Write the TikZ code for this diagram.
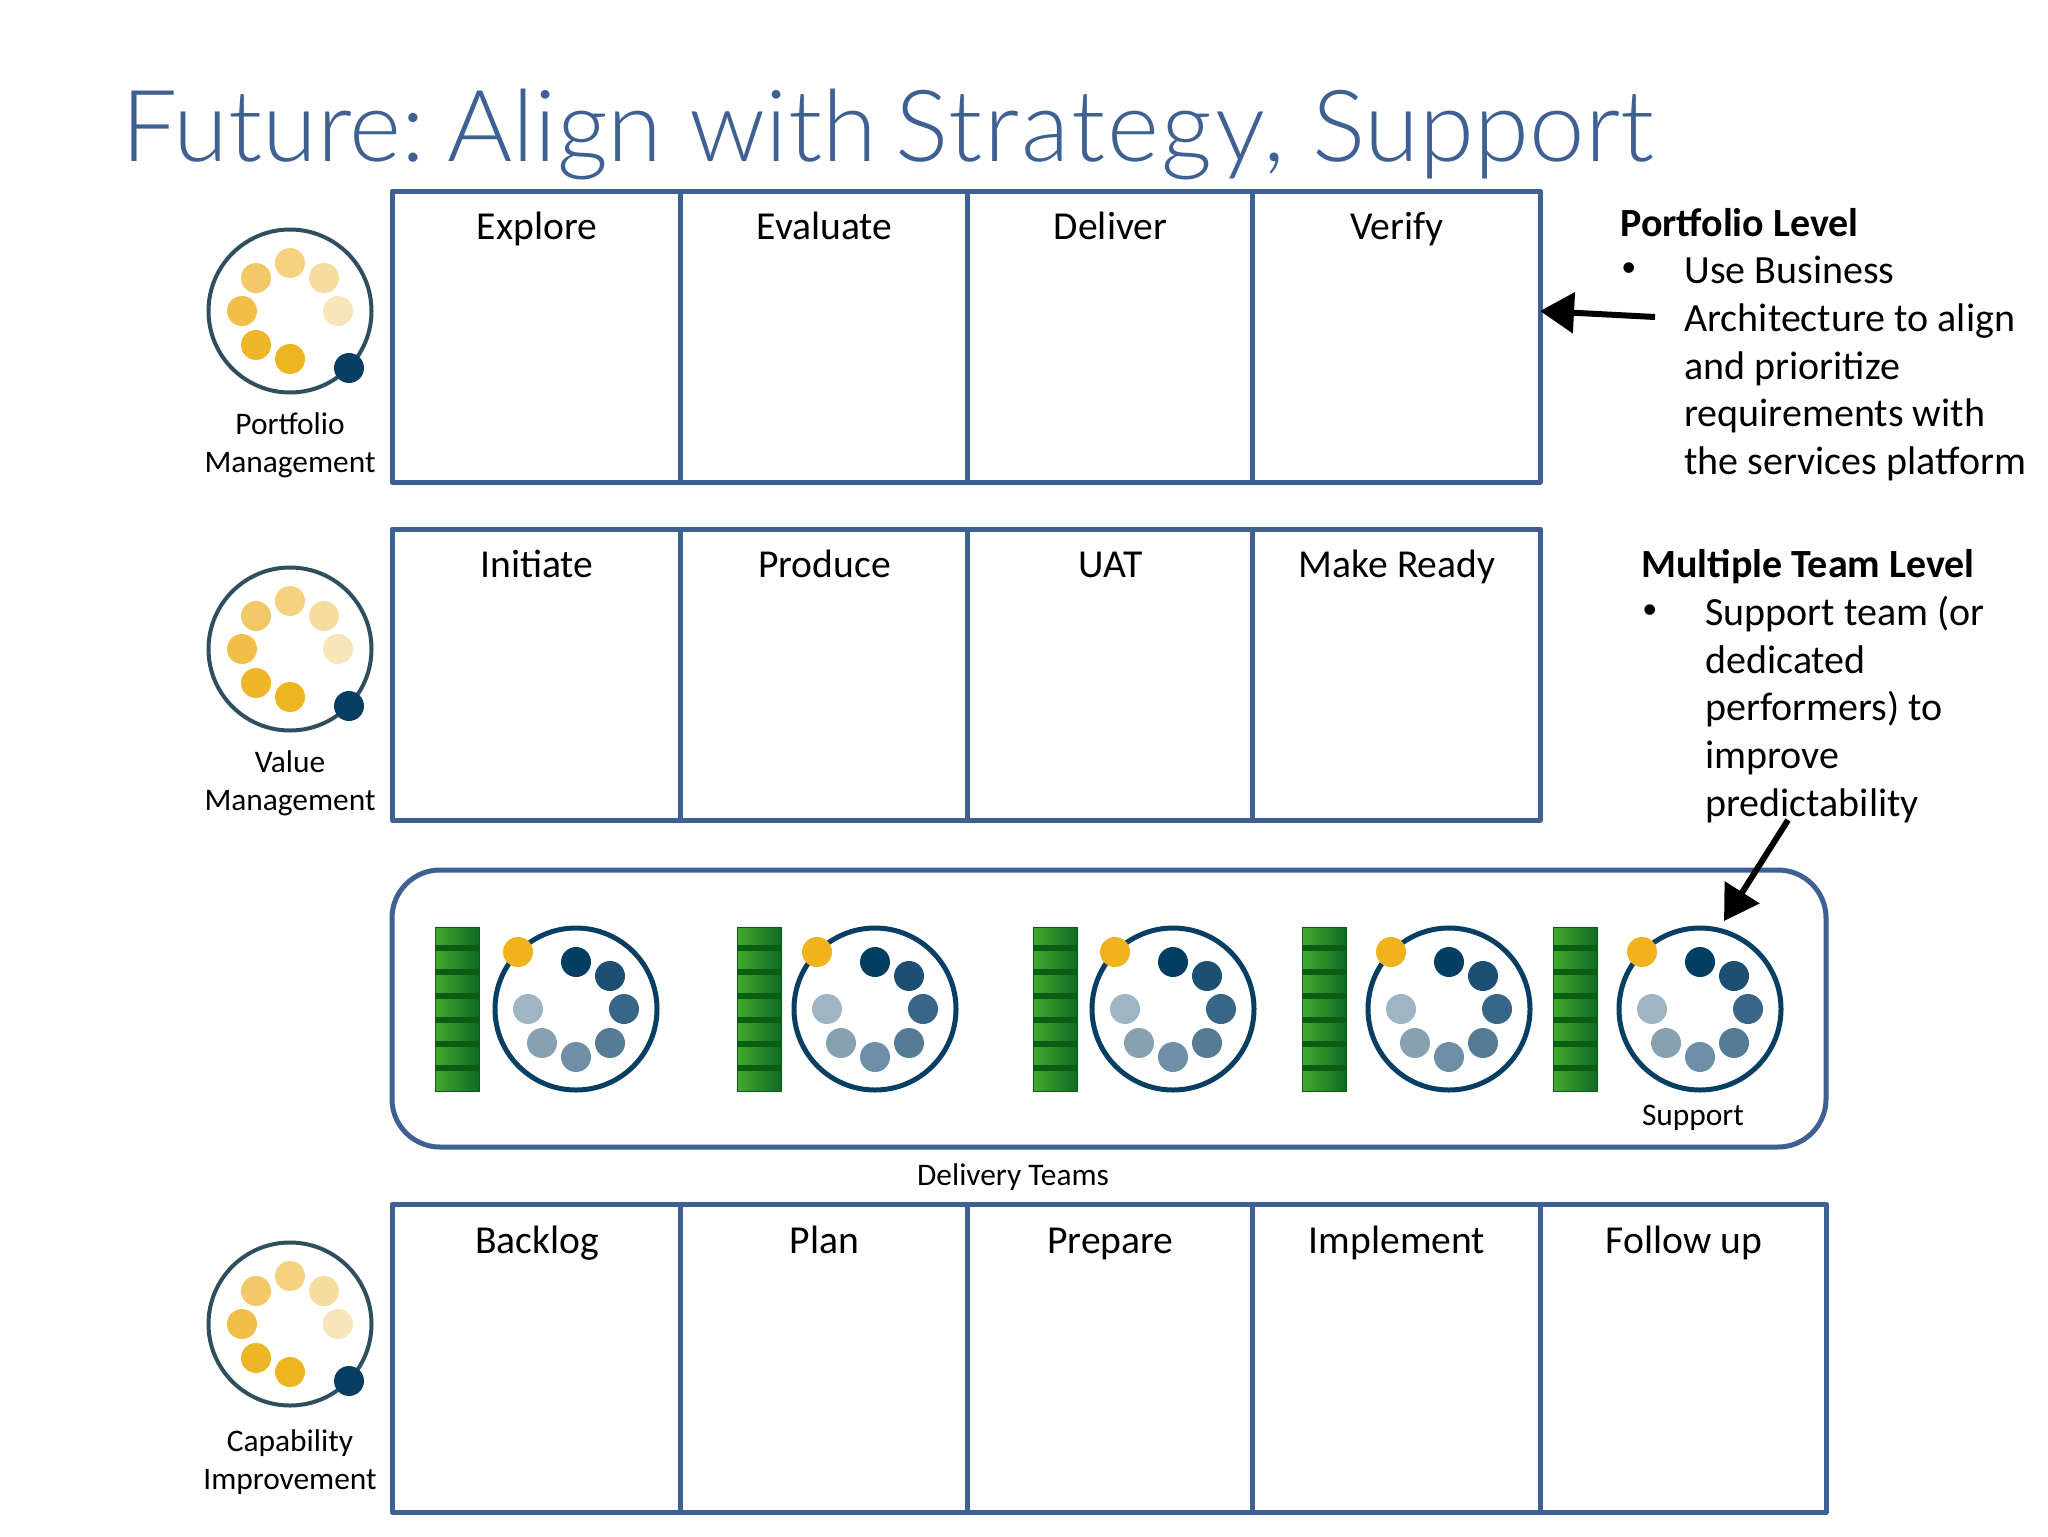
\documentclass[tikz,border=0pt]{standalone}
\usepackage{fontspec}
\setmainfont{Carlito}
\newfontfamily\titlefont{Lato Light}
\usetikzlibrary{arrows.meta}
\definecolor{frameblue}{HTML}{3E6092}
\definecolor{ringblue}{HTML}{063F63}
\definecolor{ringgrey}{HTML}{2F4F5F}
\definecolor{gold}{HTML}{F0B31E}
\definecolor{barlight}{HTML}{42A92C}
\definecolor{bardark}{HTML}{0E6B24}
\definecolor{barline}{HTML}{0A5E14}
\tikzset{
  cell/.style={draw=frameblue,line width=2.5pt,line join=round,fill=white,inner sep=0pt,outer sep=0pt},
  celltext/.style={font=\fontsize{19.8}{24}\selectfont,inner sep=0pt,text=black,anchor=base},
  smalltext/.style={font=\fontsize{15.7}{19}\selectfont,align=center,inner sep=0pt},
  sidetext/.style={font=\fontsize{20}{23.8}\selectfont,align=left,anchor=north west,inner sep=0pt},
  sidehead/.style={font=\fontsize{20}{24}\selectfont\bfseries,anchor=west,inner sep=0pt},
  bulletmark/.style={anchor=west,inner sep=0pt,font=\fontsize{15}{18}\selectfont},
  callout/.style={draw=black,line width=3pt,-{Triangle[length=17pt,width=20pt]}},
}
% gold management icon
\newcommand{\goldicon}[2]{%
  \draw[ringgrey,line width=2pt] (#1,#2) circle[radius=81.5];
  \foreach \dx/\dy/\c in {0/-48/F5D27F,34/-33/F5DC9F,48/0/F8E5B9,0/48/EFB520,-34/34/EFB62A,-48/0/F1BE48,-34/-33/F3C868}{
    \definecolor{dotc}{HTML}{\c}
    \fill[dotc] (#1+\dx,#2+\dy) circle[radius=15];
  }
  \fill[ringblue] (#1+59,#2+57) circle[radius=15];
}
% team icon: green backlog bar and blue loop
\newcommand{\teamicon}[2]{%
  \shade[left color=barlight,right color=bardark,draw=barline,line width=.4pt] (#1,927) rectangle (#1+44,1091);
  \foreach \sy in {948,972,996,1020,1044,1068}{
    \fill[barline] (#1,\sy-3.2) rectangle (#1+44,\sy+3.2);
  }
  \draw[ringblue,line width=2.5pt] (#2,1009) circle[radius=81];
  \foreach \dx/\dy/\c in {0/-47/033F63,34/-33/1D4E73,48/0/386686,34/34/567C95,0/48/6F8FA6,-34/34/87A1B2,-48/0/A0B5C3}{
    \definecolor{dotc}{HTML}{\c}
    \fill[dotc] (#2+\dx,1009+\dy) circle[radius=15];
  }
  \fill[gold] (#2-58,1009-57) circle[radius=15];
}
\begin{document}
\begin{tikzpicture}[x=0.5pt,y=-0.5pt]
\useasboundingbox (0,0) rectangle (2048,1536);
\fill[white] (0,0) rectangle (2048,1536);

\node[anchor=base west,inner sep=0pt,text=frameblue,font=\fontsize{49.8}{56}\selectfont\titlefont] (title) at (121,162) {Future:\hspace{-7pt} Align with\hspace{-4.5pt} {\addfontfeature{LetterSpace=2.3}Strategy,} Support};

% row 1
\foreach \n/\a/\b/\t in {a1/392/680/Explore,a2/680/967/Evaluate,a3/967/1252/Deliver,a4/1252/1540/Verify}{
  \draw[cell] (\a,191) rectangle (\b,482);
  \node[celltext] (\n) at ({(\a+\b)/2+1},239) {\t};
}
% row 2
\foreach \n/\a/\b/\t in {b1/392/680/Initiate,b2/680/967/Produce,b3/967/1252/UAT,b4/1252/1540/Make Ready}{
  \draw[cell] (\a,529) rectangle (\b,820);
  \node[celltext] (\n) at ({(\a+\b)/2+1},577) {\t};
}
% row 4
\foreach \n/\a/\b/\t in {d1/392/680/Backlog,d2/680/967/Plan,d3/967/1252/Prepare,d4/1252/1540/Implement,d5/1540/1826/Follow up}{
  \draw[cell] (\a,1204) rectangle (\b,1512);
  \node[celltext] (\n) at ({(\a+\b)/2+1},1253) {\t};
}
% delivery container
\draw[cell,rounded corners=24pt] (392,870) rectangle (1826,1147);

\goldicon{290}{311}
\goldicon{290}{649}
\goldicon{290}{1324}

\teamicon{435}{576}
\teamicon{737}{875}
\teamicon{1033}{1173}
\teamicon{1302}{1449}
\teamicon{1553}{1700}

\node[smalltext] (pm) at (290,445) {Portfolio\\Management};
\node[smalltext] (vm) at (290,783) {Value\\Management};
\node[smalltext] (ci) at (290,1462) {Capability\\Improvement};
\node[smalltext] (sup) at (1693,1118) {Support};
\node[smalltext] (dt) at (1013,1177) {Delivery Teams};

\node[sidehead] (h1) at (1620,223) {Portfolio Level};
\node[bulletmark] (b1x) at (1621,270) {•};
\node[sidetext] (t1) at (1684,256) {Use Business\\Architecture to align\\and prioritize\\requirements with\\the services platform};

\node[sidehead] (h2) at (1641,567) {Multiple Team Level};
\node[bulletmark] (b2x) at (1642,612) {•};
\node[sidetext] (t2) at (1705,596) {Support team (or\\dedicated\\performers) to\\improve\\predictability};

\coordinate (s1) at (1655,317);
\coordinate (e1) at (1540,311);
\coordinate (s2) at (1788,820);
\coordinate (e2) at (1724,921);
\draw[callout] (s1) -- (e1);
\draw[callout] (s2) -- (e2);
\end{tikzpicture}
\end{document}
